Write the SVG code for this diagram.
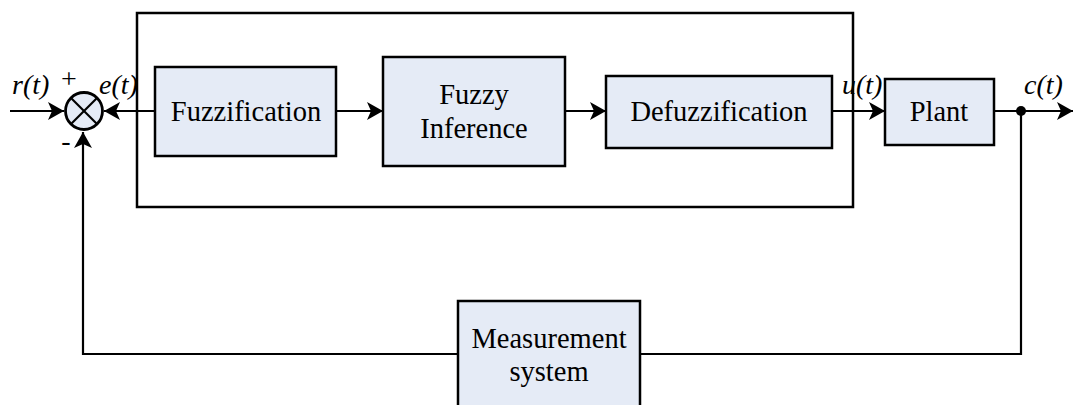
<svg xmlns="http://www.w3.org/2000/svg" width="1073" height="405" viewBox="0 0 1073 405">
<style>
.box{fill:#e5ebf6;stroke:#000;stroke-width:2.5}
.frame{fill:none;stroke:#000;stroke-width:2.5}
.ln{fill:none;stroke:#000;stroke-width:2.2}
.t{font-family:"Liberation Serif","Times New Roman",serif;font-size:28.5px;fill:#000;text-anchor:middle}
.it{font-family:"Liberation Serif","Times New Roman",serif;font-size:28px;font-style:italic;fill:#000}
</style>
<defs>
<marker id="ah" viewBox="0 0 16 18" refX="16" refY="9" markerWidth="16" markerHeight="18" markerUnits="userSpaceOnUse" orient="auto">
<path d="M0,0 L16,9 L0,18 L4,9 Z" fill="#000"/>
</marker>
</defs>
<rect width="1073" height="405" fill="#fff"/>
<g id="controller-frame"><rect class="frame" x="137" y="13" width="716" height="194"/></g>
<g id="connectors">
<line class="ln" x1="10" y1="111" x2="64" y2="111" marker-end="url(#ah)"/>
<line class="ln" x1="155" y1="111" x2="104" y2="111" marker-end="url(#ah)"/>
<line class="ln" x1="336" y1="111" x2="383" y2="111" marker-end="url(#ah)"/>
<line class="ln" x1="565" y1="111" x2="606" y2="111" marker-end="url(#ah)"/>
<line class="ln" x1="832" y1="111" x2="885" y2="111" marker-end="url(#ah)"/>
<line class="ln" x1="994" y1="111" x2="1073" y2="111" marker-end="url(#ah)"/>
<polyline class="ln" points="1021,111 1021,354 640,354"/>
<polyline class="ln" points="458,354 83,354 83,132" marker-end="url(#ah)"/>
<circle cx="1021" cy="111" r="5" fill="#000"/>
</g>
<g id="sum">
<circle cx="84" cy="111" r="18.5" fill="#e5ebf6" stroke="#000" stroke-width="2.8"/>
<line class="ln" x1="71" y1="98" x2="97" y2="124" stroke-width="2.5"/>
<line class="ln" x1="97" y1="98" x2="71" y2="124" stroke-width="2.5"/>
</g>
<g id="fuzzification"><rect class="box" x="155" y="67" width="181" height="89"/><text class="t" x="246" y="121">Fuzzification</text></g>
<g id="fuzzy-inference"><rect class="box" x="383" y="57" width="182" height="109"/><text class="t" x="474" y="104">Fuzzy</text><text class="t" x="474" y="138">Inference</text></g>
<g id="defuzzification"><rect class="box" x="606" y="76" width="226" height="72"/><text class="t" x="719" y="121">Defuzzification</text></g>
<g id="plant"><rect class="box" x="885" y="79" width="109" height="66"/><text class="t" x="939" y="121">Plant</text></g>
<g id="measurement"><rect class="box" x="458" y="301" width="182" height="115"/><text class="t" x="549" y="348">Measurement</text><text class="t" x="549" y="381">system</text></g>
<g id="labels">
<text class="it" x="12" y="94">r(t)</text>
<text class="it" x="99" y="94">e(t)</text>
<text class="it" x="842" y="94">u(t)</text>
<text class="it" x="1024" y="94">c(t)</text>
<text class="t" x="69" y="88" style="font-size:28px">+</text>
<text class="t" x="66" y="150" style="font-size:28px">-</text>
</g>
</svg>
